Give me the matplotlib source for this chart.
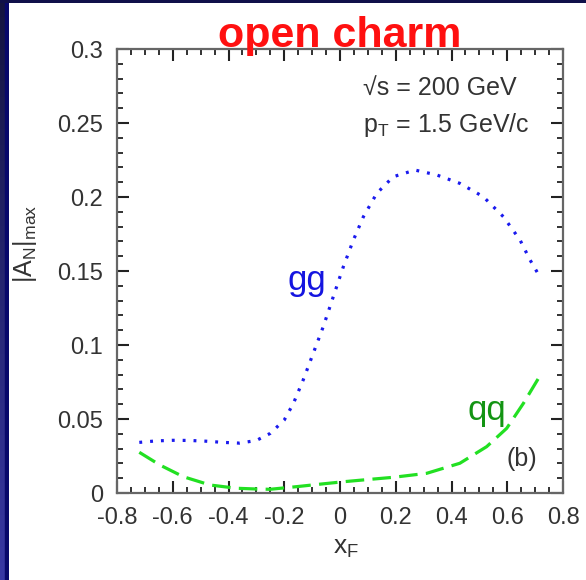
import matplotlib
matplotlib.use("Agg")
import matplotlib.pyplot as plt
import numpy as np
from matplotlib.ticker import MultipleLocator
from matplotlib.colors import LinearSegmentedColormap

plt.rcParams['font.family'] = ['Liberation Sans', 'DejaVu Sans']
plt.rcParams['mathtext.fontset'] = 'custom'
plt.rcParams['mathtext.rm'] = 'Liberation Sans'
plt.rcParams['mathtext.it'] = 'Liberation Sans:italic'
plt.rcParams['mathtext.default'] = 'regular'

# data
gg_x = [-0.72, -0.66, -0.60, -0.54, -0.48, -0.42, -0.36, -0.30, -0.25, -0.20,
        -0.167, -0.132, -0.096, -0.060, -0.024, 0.012, 0.048, 0.084, 0.132,
        0.191, 0.269, 0.347, 0.430, 0.514, 0.586, 0.646, 0.682, 0.72]
gg_y = [0.0342, 0.0352, 0.0356, 0.0355, 0.0350, 0.0342, 0.0337, 0.0355, 0.0403,
        0.0493, 0.0606, 0.0764, 0.0944, 0.1124, 0.1327, 0.1529, 0.1709, 0.1867,
        0.2025, 0.2137, 0.2182, 0.2149, 0.2092, 0.2002, 0.1867, 0.1709, 0.1574,
        0.1451]

qq_x = [-0.72, -0.646, -0.562, -0.466, -0.371, -0.30, -0.251, -0.155, -0.07,
        0.012, 0.10, 0.191, 0.311, 0.430, 0.526, 0.598, 0.658, 0.72]
qq_y = [0.0275, 0.0189, 0.0110, 0.0054, 0.0032, 0.0027, 0.0025, 0.0043, 0.0060,
        0.0076, 0.0091, 0.0106, 0.0133, 0.0201, 0.0313, 0.0437, 0.0606, 0.0800]

xticks = [-0.8, -0.6, -0.4, -0.2, 0, 0.2, 0.4, 0.6, 0.8]
xticklabels = ['-0.8', '-0.6', '-0.4', '-0.2', '0', '0.2', '0.4', '0.6', '0.8']
yticks = [0, 0.05, 0.1, 0.15, 0.2, 0.25, 0.3]
yticklabels = ['0', '0.05', '0.1', '0.15', '0.2', '0.25', '0.3']

W, H = 586, 580
fig = plt.figure(figsize=(W / 100, H / 100), dpi=100, facecolor='white')

# navy frame (left band and top band)
band = fig.add_axes([0, 0, 9 / W, 1])
grad = np.linspace(0, 1, 256).reshape(-1, 1)
cm = LinearSegmentedColormap.from_list('nv', ['#3838a4', '#141440'])
band.imshow(grad, aspect='auto', cmap=cm, extent=[0, 1, 0, 1], origin='lower')
band.axvspan(0.6, 0.95, color='#08086a')
band.set_axis_off()
top = fig.add_axes([0, 1 - 3 / H, 1, 3 / H])
top.set_facecolor('#10104a')
top.set_xticks([]); top.set_yticks([])
for s in top.spines.values():
    s.set_visible(False)

ax = fig.add_axes([117 / W, 1 - 493 / H, 446 / W, 444 / H])
ax.plot(gg_x, gg_y, color='#1a1aee', lw=2.3, linestyle=(0, (0.9, 2.5)))
ax.plot(qq_x, qq_y, color='#22e022', lw=2.3, linestyle=(0, (5.8, 2.6)))

ax.set_xlim(-0.8, 0.8)
ax.set_ylim(0, 0.3)
ax.set_xticks(xticks)
ax.set_xticklabels(xticklabels)
ax.set_yticks(yticks)
ax.set_yticklabels(yticklabels)
ax.xaxis.set_minor_locator(MultipleLocator(0.05))
ax.yaxis.set_minor_locator(MultipleLocator(0.01))
ax.tick_params(which='both', direction='in', top=True, right=True,
               color='#222222', labelsize=17, labelcolor='#333333', pad=10)
ax.tick_params(which='major', length=8.5, width=1.5)
ax.tick_params(which='minor', length=4.3, width=1.3)
for s in ax.spines.values():
    s.set_color('#666666')
    s.set_linewidth(1.6)

ax.text(-0.19, 0.137, 'gg', color='#1515e0', fontsize=25, ha='left', va='baseline')
ax.text(0.456, 0.049, 'qq', color='#139413', fontsize=25, ha='left', va='baseline')
ax.text(0.599, 0.023, '(b)', color='#333333', fontsize=18, ha='left', va='center')

fig.text(363 / W, 1 - 88 / H, '\u221as = 200 GeV', fontsize=18, color='#333333',
         ha='left', va='center')
fig.text(363 / W, 1 - 125 / H, r'p$_\mathrm{T}$ = 1.5 GeV/c', fontsize=18,
         color='#333333', ha='left', va='center')

fig.text(340 / W, 1 - 47 / H, 'open charm', fontsize=31, fontweight='bold',
         color='#ff1010', ha='center', va='baseline')

fig.text(346 / W, 1 - 548 / H, r'x$_\mathrm{F}$', fontsize=19, color='#333333',
         ha='center', va='center')
fig.text(25 / W, 1 - 244 / H, r'|A$_\mathrm{N}$|$_\mathrm{max}$', fontsize=18,
         color='#333333', ha='center', va='center', rotation=90)

fig.savefig('out.png', dpi=100, facecolor='white')
